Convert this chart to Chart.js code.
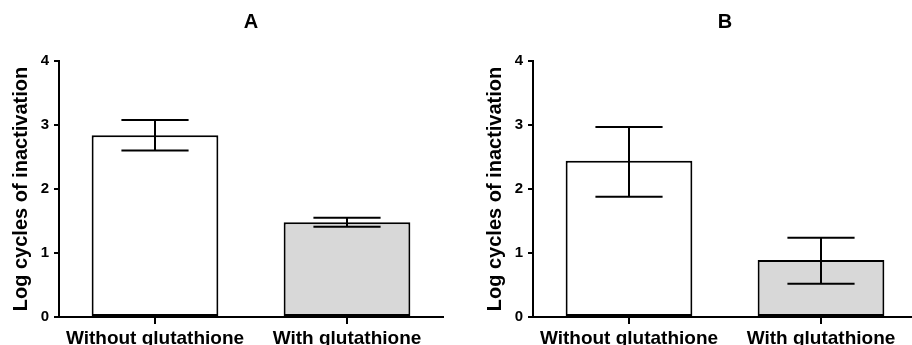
<!DOCTYPE html>
<html>
<head>
<meta charset="utf-8">
<script src="https://cdn.jsdelivr.net/npm/chart.js@4.4.1/dist/chart.umd.min.js"></script>
<style>
  html, body { margin: 0; padding: 0; background: #fff; overflow: hidden; width: 912px; height: 345px; }
  .panel { position: absolute; top: 0; height: 345px; }
  #wa { left: 0; width: 456px; }
  #wb { left: 456px; width: 470px; }
</style>
</head>
<body>
<div class="panel" id="wa"><canvas id="ca"></canvas></div>
<div class="panel" id="wb"><canvas id="cb"></canvas></div>
<script>
const categories = ["Without glutathione", "With glutathione"];
const yTicks = [0, 1, 2, 3, 4];
const panelTitles = ["A", "B"];
const yTitle = "Log cycles of inactivation";

const meansA = [2.84, 1.48];
const lowA   = [2.60, 1.41];
const highA  = [3.08, 1.55];

const meansB = [2.44, 0.89];
const lowB   = [1.88, 0.52];
const highB  = [2.97, 1.24];

const barColors = ["#ffffff", "#d8d8d8"];

const errorBars = {
  id: 'errorBars',
  afterDatasetsDraw(chart, args, opts) {
    const ctx = chart.ctx;
    const y = chart.scales.y;
    const meta = chart.getDatasetMeta(0);
    ctx.save();
    ctx.strokeStyle = '#000';
    ctx.lineWidth = 2;
    meta.data.forEach((bar, i) => {
      const x = bar.x;
      const half = bar.width * 0.265;
      const yl = y.getPixelForValue(opts.low[i]);
      const yh = y.getPixelForValue(opts.high[i]);
      ctx.beginPath();
      ctx.moveTo(x, yl); ctx.lineTo(x, yh);
      ctx.moveTo(x - half, yh); ctx.lineTo(x + half, yh);
      ctx.moveTo(x - half, yl); ctx.lineTo(x + half, yl);
      ctx.stroke();
    });
    ctx.restore();
  }
};

const FONT = "'Liberation Sans', Arial, sans-serif";

function makeChart(id, title, means, low, high, padLeft, padRight) {
  new Chart(document.getElementById(id), {
    type: 'bar',
    data: {
      labels: categories,
      datasets: [{
        data: means,
        backgroundColor: barColors,
        borderColor: '#000',
        borderWidth: 2,
        borderSkipped: false,
        barPercentage: 0.66,
        categoryPercentage: 1.0
      }]
    },
    options: {
      responsive: true,
      maintainAspectRatio: false,
      animation: false,
      layout: { padding: { left: padLeft, right: padRight, top: 0, bottom: 0 } },
      plugins: {
        legend: { display: false },
        tooltip: { enabled: false },
        title: {
          display: true,
          text: title,
          fullSize: false,
          color: '#000',
          font: { family: FONT, size: 20, weight: 'bold' },
          padding: { top: 10, bottom: 27 }
        },
        errorBars: { low: low, high: high }
      },
      scales: {
        x: {
          offset: true,
          grid: { display: true, offset: false, drawOnChartArea: false, drawTicks: true, tickLength: 7, color: '#000', lineWidth: 2 },
          border: { display: true, color: '#000', width: 2 },
          ticks: { color: '#000', padding: 3, maxRotation: 0, autoSkip: false,
                   font: { family: FONT, size: 19, weight: 'bold' } },
          afterFit(s) { s.height = 28; }
        },
        y: {
          min: 0, max: 4,
          afterBuildTicks(s) { s.ticks = yTicks.map(v => ({ value: v })); },
          grid: { display: true, drawOnChartArea: false, drawTicks: true, tickLength: 5, color: '#000', lineWidth: 2 },
          border: { display: true, color: '#000', width: 2 },
          ticks: { color: '#000', padding: 5, font: { family: FONT, size: 15, weight: 'bold' } },
          title: {
            display: true, text: yTitle, color: '#000',
            font: { family: FONT, size: 20, weight: 'bold' },
            padding: { top: 9, bottom: 0 }
          },
          afterFit(s) { s.width = 59; }
        }
      }
    },
    plugins: [errorBars]
  });
}

makeChart('ca', panelTitles[0], meansA, lowA, highA, 0, 13);
makeChart('cb', panelTitles[1], meansB, lowB, highB, 18, 9);
</script>
</body>
</html>
